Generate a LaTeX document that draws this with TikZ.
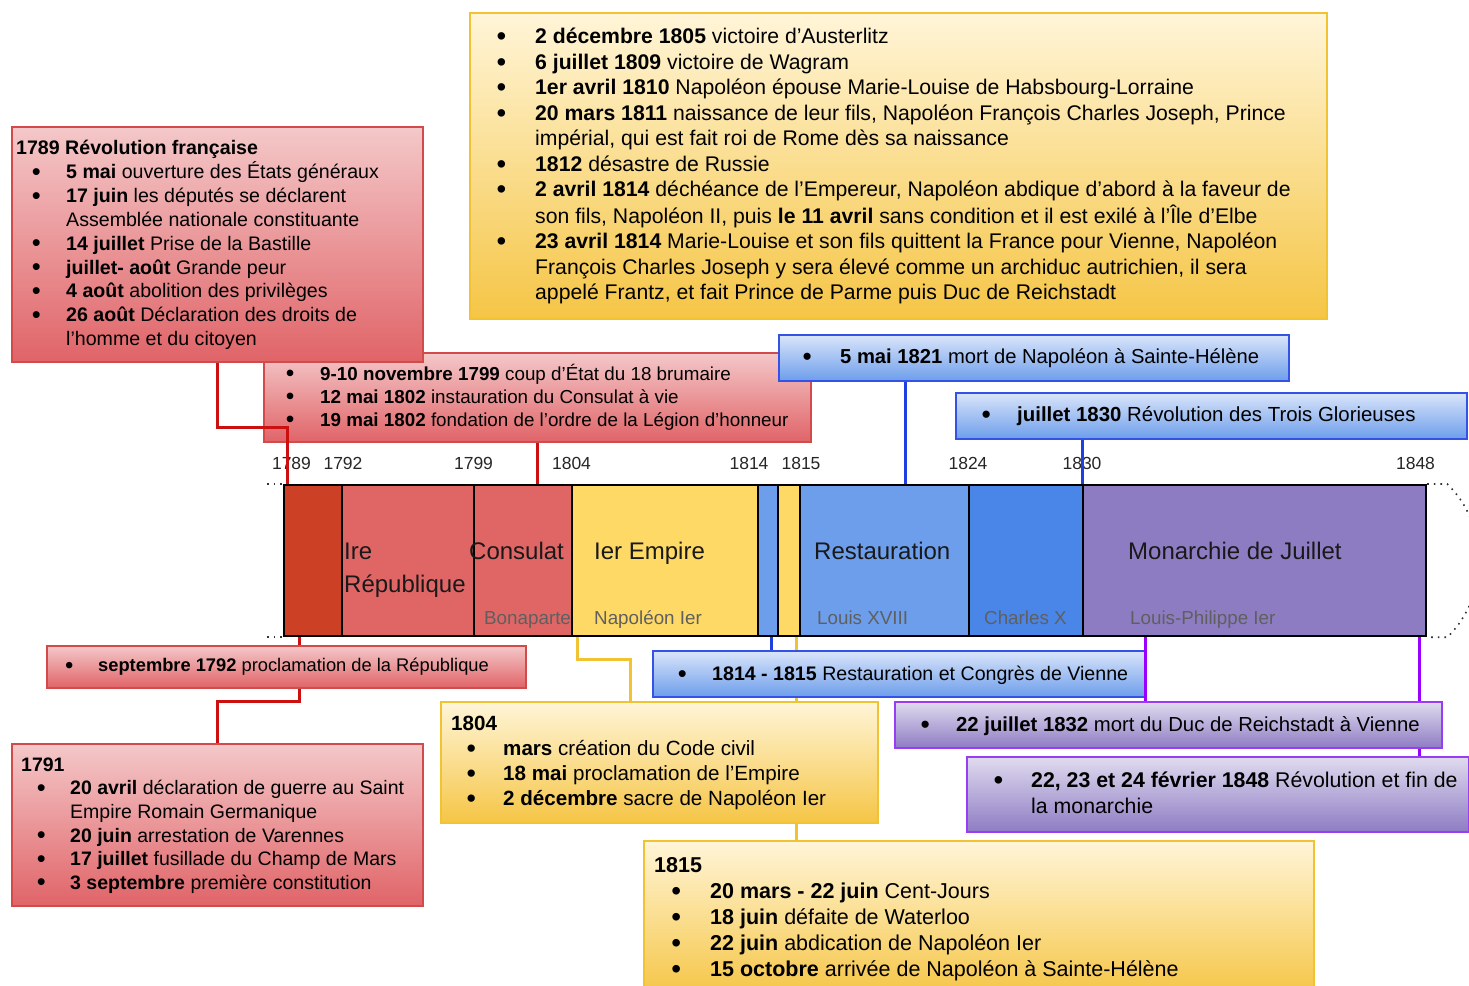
\documentclass[tikz,border=0pt]{standalone}
\usepackage{fontspec}
\setmainfont{Liberation Sans}
\usetikzlibrary{positioning}
\definecolor{RevRed}{HTML}{CC4125}
\definecolor{RepRed}{HTML}{E06666}
\definecolor{EmpGold}{HTML}{FFD966}
\definecolor{ResBlue}{HTML}{6D9EEB}
\definecolor{CxBlue}{HTML}{4A86E8}
\definecolor{MjPurple}{HTML}{8E7CC3}
\definecolor{RedTop}{HTML}{F4C8C9}
\definecolor{RedBot}{HTML}{E06468}
\definecolor{RedEdge}{HTML}{D24A4A}
\definecolor{RedLink}{HTML}{CC1010}
\definecolor{YelTop}{HTML}{FFF5D8}
\definecolor{YelBot}{HTML}{F5C545}
\definecolor{YelEdge}{HTML}{F1C232}
\definecolor{BluTop}{HTML}{DAE5FA}
\definecolor{BluBot}{HTML}{6D9EEB}
\definecolor{BluEdge}{HTML}{3552E6}
\definecolor{BluLink}{HTML}{1F3FE0}
\definecolor{PurTop}{HTML}{E0DBEF}
\definecolor{PurBot}{HTML}{8E7CC3}
\definecolor{PurEdge}{HTML}{9B3CF5}
\definecolor{PurLink}{HTML}{9900FF}
\definecolor{SubGray}{HTML}{5F5F5F}
\pgfdeclarelayer{back}
\pgfsetlayers{back,main}
% bullet lists inside the boxes
\newcommand{\evlist}[3]{\begin{tabular}{@{\hspace{#1pt}}p{#2pt}@{}l@{}}#3\end{tabular}}
\newcommand{\blt}{\raisebox{-0.09em}{\scalebox{1.3}{\textbullet}}}
\newcommand{\evt}[2]{\blt & \textbf{#1} #2\\}
\newcommand{\cnt}[1]{& #1\\}
\newcommand{\ttl}[1]{\multicolumn{2}{@{}l@{}}{\textbf{#1}}\\}

\begin{document}
\begin{tikzpicture}[x=1pt, y=-1pt,
    evbox/.style={rectangle, anchor=north west, inner sep=0pt, line width=1.6pt},
    redbox/.style={evbox, draw=RedEdge, top color=RedTop, bottom color=RedBot},
    yelbox/.style={evbox, draw=YelEdge, top color=YelTop, bottom color=YelBot},
    blubox/.style={evbox, draw=BluEdge, top color=BluTop, bottom color=BluBot},
    purbox/.style={evbox, draw=PurEdge, top color=PurTop, bottom color=PurBot},
    evtxt/.style 2 args={anchor=north west, inner sep=0pt, font=\fontsize{#1}{#2}\selectfont},
    seg/.style={rectangle, anchor=north west, draw=black, line width=2.2pt, minimum height=151, inner sep=0pt},
    seglbl/.style={anchor=base west, inner sep=0pt, font=\fontsize{24}{28}\selectfont, text=black!90},
    sublbl/.style={anchor=base west, inner sep=0pt, font=\fontsize{18.8}{22}\selectfont, text=SubGray},
    yr/.style={anchor=base, inner sep=0pt, font=\fontsize{17.5}{20}\selectfont, text=black!85},
    redlink/.style={draw=RedLink, line width=3pt},
    yellink/.style={draw=YelEdge, line width=3pt},
    blulink/.style={draw=BluLink, line width=3pt},
    purlink/.style={draw=PurLink, line width=3pt},
    dots/.style={line width=1.6pt, dash pattern=on 1.6pt off 5pt, draw=black!80}]
    \useasboundingbox (0,0) rectangle (1469,985);

    % Timeline
    \node[seg, fill=RevRed, minimum width=58] (sRev) at (283,484) {};
    \node[seg, fill=RepRed, minimum width=132] (sRep) at (341,484) {};
    \node[seg, fill=RepRed, minimum width=98] (sCons) at (473,484) {};
    \node[seg, fill=EmpGold, minimum width=186] (sEmp) at (571,484) {};
    \node[seg, fill=ResBlue, minimum width=20] (sRes1) at (757,484) {};
    \node[seg, fill=EmpGold, minimum width=22] (sCent) at (777,484) {};
    \node[seg, fill=ResBlue, minimum width=169] (sRes) at (799,484) {};
    \node[seg, fill=CxBlue, minimum width=114] (sCx) at (968,484) {};
    \node[seg, fill=MjPurple, minimum width=343] (sMj) at (1082,484) {};

    \draw[dots] ([shift={(-16,0)}]sRev.north west) -- (sRev.north west);
    \draw[dots] ([shift={(-16,0)}]sRev.south west) -- (sRev.south west);
    \draw[dots] (sMj.north east) -- ++(20,0) .. controls +(42,40) and +(42,-40) .. ([shift={(20,0)}]sMj.south east) -- (sMj.south east);

    % Periods
    \node[seglbl] at (344,559) {Ire};
    \node[seglbl] at (344,592) {République};
    \node[seglbl] at (469,559) {Consulat};
    \node[seglbl] at (594,559) {Ier Empire};
    \node[seglbl] at (814,559) {Restauration};
    \node[seglbl] at (1128,559) {Monarchie de Juillet};
    \node[sublbl] at (484,624) {Bonaparte};
    \node[sublbl] at (594,624) {Napoléon Ier};
    \node[sublbl] at (817,624) {Louis XVIII};
    \node[sublbl] at (984,624) {Charles X};
    \node[sublbl] at (1130,624) {Louis-Philippe Ier};

    % Years
    \node[yr] at (291.5,469.3) {1789};
    \node[yr] at (343,469.3) {1792};
    \node[yr] at (473.5,469.3) {1799};
    \node[yr] at (571.5,469.3) {1804};
    \node[yr] at (749,469.3) {1814};
    \node[yr] at (801,469.3) {1815};
    \node[yr] at (968,469.3) {1824};
    \node[yr] at (1082,469.3) {1830};
    \node[yr] at (1415.5,469.3) {1848};

    % Boxes above
    \node[redbox, minimum width=547, minimum height=89] (cons) at (263,352) {};
    \node[evtxt={18.8}{23}] (tcons) at ([shift={(22.7,11.7)}]cons.north west) {\evlist{0}{34.3}{%
      \evt{9-10 novembre 1799}{coup d'État du 18 brumaire}
      \evt{12 mai 1802}{instauration du Consulat à vie}
      \evt{19 mai 1802}{fondation de l'ordre de la Légion d'honneur}}};

    \node[redbox, minimum width=411, minimum height=235] (rev89) at (11,126) {};
    \node[evtxt={19.6}{23.9}] (t89) at ([shift={(5,11.3)}]rev89.north west) {\evlist{15.6}{34.4}{%
      \ttl{1789 Révolution française}
      \evt{5 mai}{ouverture des États généraux}
      \evt{17 juin}{les députés se déclarent}
      \cnt{Assemblée nationale constituante}
      \evt{14 juillet}{Prise de la Bastille}
      \evt{juillet- août}{Grande peur}
      \evt{4 août}{abolition des privilèges}
      \evt{26 août}{Déclaration des droits de}
      \cnt{l'homme et du citoyen}}};

    \node[yelbox, minimum width=857, minimum height=306] (emp) at (469,12) {};
    \node[evtxt={21.2}{25.5}] (temp) at ([shift={(27.3,13.8)}]emp.north west) {\evlist{0}{38.7}{%
      \evt{2 décembre 1805}{victoire d'Austerlitz}
      \evt{6 juillet 1809}{victoire de Wagram}
      \evt{1er avril 1810}{Napoléon épouse Marie-Louise de Habsbourg-Lorraine}
      \evt{20 mars 1811}{naissance de leur fils, Napoléon François Charles Joseph, Prince}
      \cnt{impérial, qui est fait roi de Rome dès sa naissance}
      \evt{1812}{désastre de Russie}
      \evt{2 avril 1814}{déchéance de l'Empereur, Napoléon abdique d'abord à la faveur de}
      \cnt{son fils, Napoléon II, puis \textbf{le 11 avril} sans condition et il est exilé à l'Île d'Elbe}
      \evt{23 avril 1814}{Marie-Louise et son fils quittent la France pour Vienne, Napoléon}
      \cnt{François Charles Joseph y sera élevé comme un archiduc autrichien, il sera}
      \cnt{appelé Frantz, et fait Prince de Parme puis Duc de Reichstadt}}};

    \node[blubox, minimum width=510, minimum height=46] (m1821) at (778,334) {};
    \node[evtxt={20.2}{24}] (t1821) at ([shift={(24.5,12.5)}]m1821.north west) {\evlist{0}{37.5}{%
      \evt{5 mai 1821}{mort de Napoléon à Sainte-Hélène}}};

    \node[blubox, minimum width=511, minimum height=46] (j1830) at (955,392) {};
    \node[evtxt={20.4}{24}] (t1830) at ([shift={(26.4,12.5)}]j1830.north west) {\evlist{0}{35.6}{%
      \evt{juillet 1830}{Révolution des Trois Glorieuses}}};

    % Boxes below
    \node[redbox, minimum width=479, minimum height=42] (sep92) at (46,645) {};
    \node[evtxt={18.3}{23}] (t92) at ([shift={(18.8,10.5)}]sep92.north west) {\evlist{0}{33.2}{%
      \evt{septembre 1792}{proclamation de la République}}};

    \node[redbox, minimum width=411, minimum height=162] (y1791) at (11,743) {};
    \node[evtxt={19.5}{23.6}] (t91) at ([shift={(10,11.5)}]y1791.north west) {\evlist{15.6}{33.4}{%
      \ttl{1791}
      \evt{20 avril}{déclaration de guerre au Saint}
      \cnt{Empire Romain Germanique}
      \evt{20 juin}{arrestation de Varennes}
      \evt{17 juillet}{fusillade du Champ de Mars}
      \evt{3 septembre}{première constitution}}};

    \node[yelbox, minimum width=437, minimum height=121] (y1804) at (440,701) {};
    \node[evtxt={20.6}{25}] (t04) at ([shift={(11,11.9)}]y1804.north west) {\evlist{15.4}{36.6}{%
      \ttl{1804}
      \evt{mars}{création du Code civil}
      \evt{18 mai}{proclamation de l'Empire}
      \evt{2 décembre}{sacre de Napoléon Ier}}};

    \node[blubox, minimum width=493, minimum height=46] (cv1815) at (652,650) {};
    \node[evtxt={19.6}{24}] (tcv) at ([shift={(25.6,13.3)}]cv1815.north west) {\evlist{0}{34.4}{%
      \evt{1814 - 1815}{Restauration et Congrès de Vienne}}};

    \node[purbox, minimum width=547, minimum height=46] (d1832) at (894,701) {};
    \node[evtxt={20.3}{24}] (t32) at ([shift={(26.4,13.5)}]d1832.north west) {\evlist{0}{35.6}{%
      \evt{22 juillet 1832}{mort du Duc de Reichstadt à Vienne}}};

    \node[purbox, minimum width=502, minimum height=75] (r1848) at (966,756) {};
    \node[evtxt={21.3}{26}] (t48) at ([shift={(27.3,13.5)}]r1848.north west) {\evlist{0}{37.7}{%
      \evt{22, 23 et 24 février 1848}{Révolution et fin de}
      \cnt{la monarchie}}};

    \node[yelbox, minimum width=670, minimum height=155] (y1815) at (643,840) {};
    \node[evtxt={21.5}{26}] (t15) at ([shift={(11,14.5)}]y1815.north west) {\evlist{17.2}{38.8}{%
      \ttl{1815}
      \evt{20 mars - 22 juin}{Cent-Jours}
      \evt{18 juin}{défaite de Waterloo}
      \evt{22 juin}{abdication de Napoléon Ier}
      \evt{15 octobre}{arrivée de Napoléon à Sainte-Hélène}}};

    % Links
    \draw[redlink] (rev89.south) -- ++(0,65) -| ([shift={(4,0)}]sRev.north west);
    \draw[redlink] (cons.south) -- (cons.south |- sCons.north);
    \coordinate (k89) at ([shift={(16,0)}]sRev.south west);
    \draw[redlink] (k89) -- (k89 |- sep92.north);
    \draw[redlink] (k89 |- sep92.south) -- ++(0,13) -| (y1791.north);
    \draw[yellink] ([shift={(6,0)}]sEmp.south west) -- ++(0,22) -| ([shift={(190,0)}]y1804.north west);
    \coordinate (k14) at ([shift={(14,0)}]sRes1.south west);
    \draw[blulink] (k14) -- (k14 |- cv1815.north);
    \coordinate (k15) at ([shift={(19,0)}]sCent.south west);
    \coordinate (k21) at ([shift={(127,0)}]m1821.south west);
    \draw[blulink] (k21) -- (k21 |- sRes.north);
    \draw[blulink] (sMj.north west |- j1830.south) -- (sMj.north west);
    \coordinate (k32) at ([shift={(63,0)}]sMj.south west);
    \draw[purlink] (k32) -- (k32 |- d1832.north);
    \coordinate (k48) at ([shift={(-8,0)}]sMj.south east);
    \begin{pgfonlayer}{back}
      \draw[yellink] (k15) -- (k15 |- y1815.north);
      \draw[purlink] (k48) -- (k48 |- r1848.north);
    \end{pgfonlayer}
\end{tikzpicture}
\end{document}
